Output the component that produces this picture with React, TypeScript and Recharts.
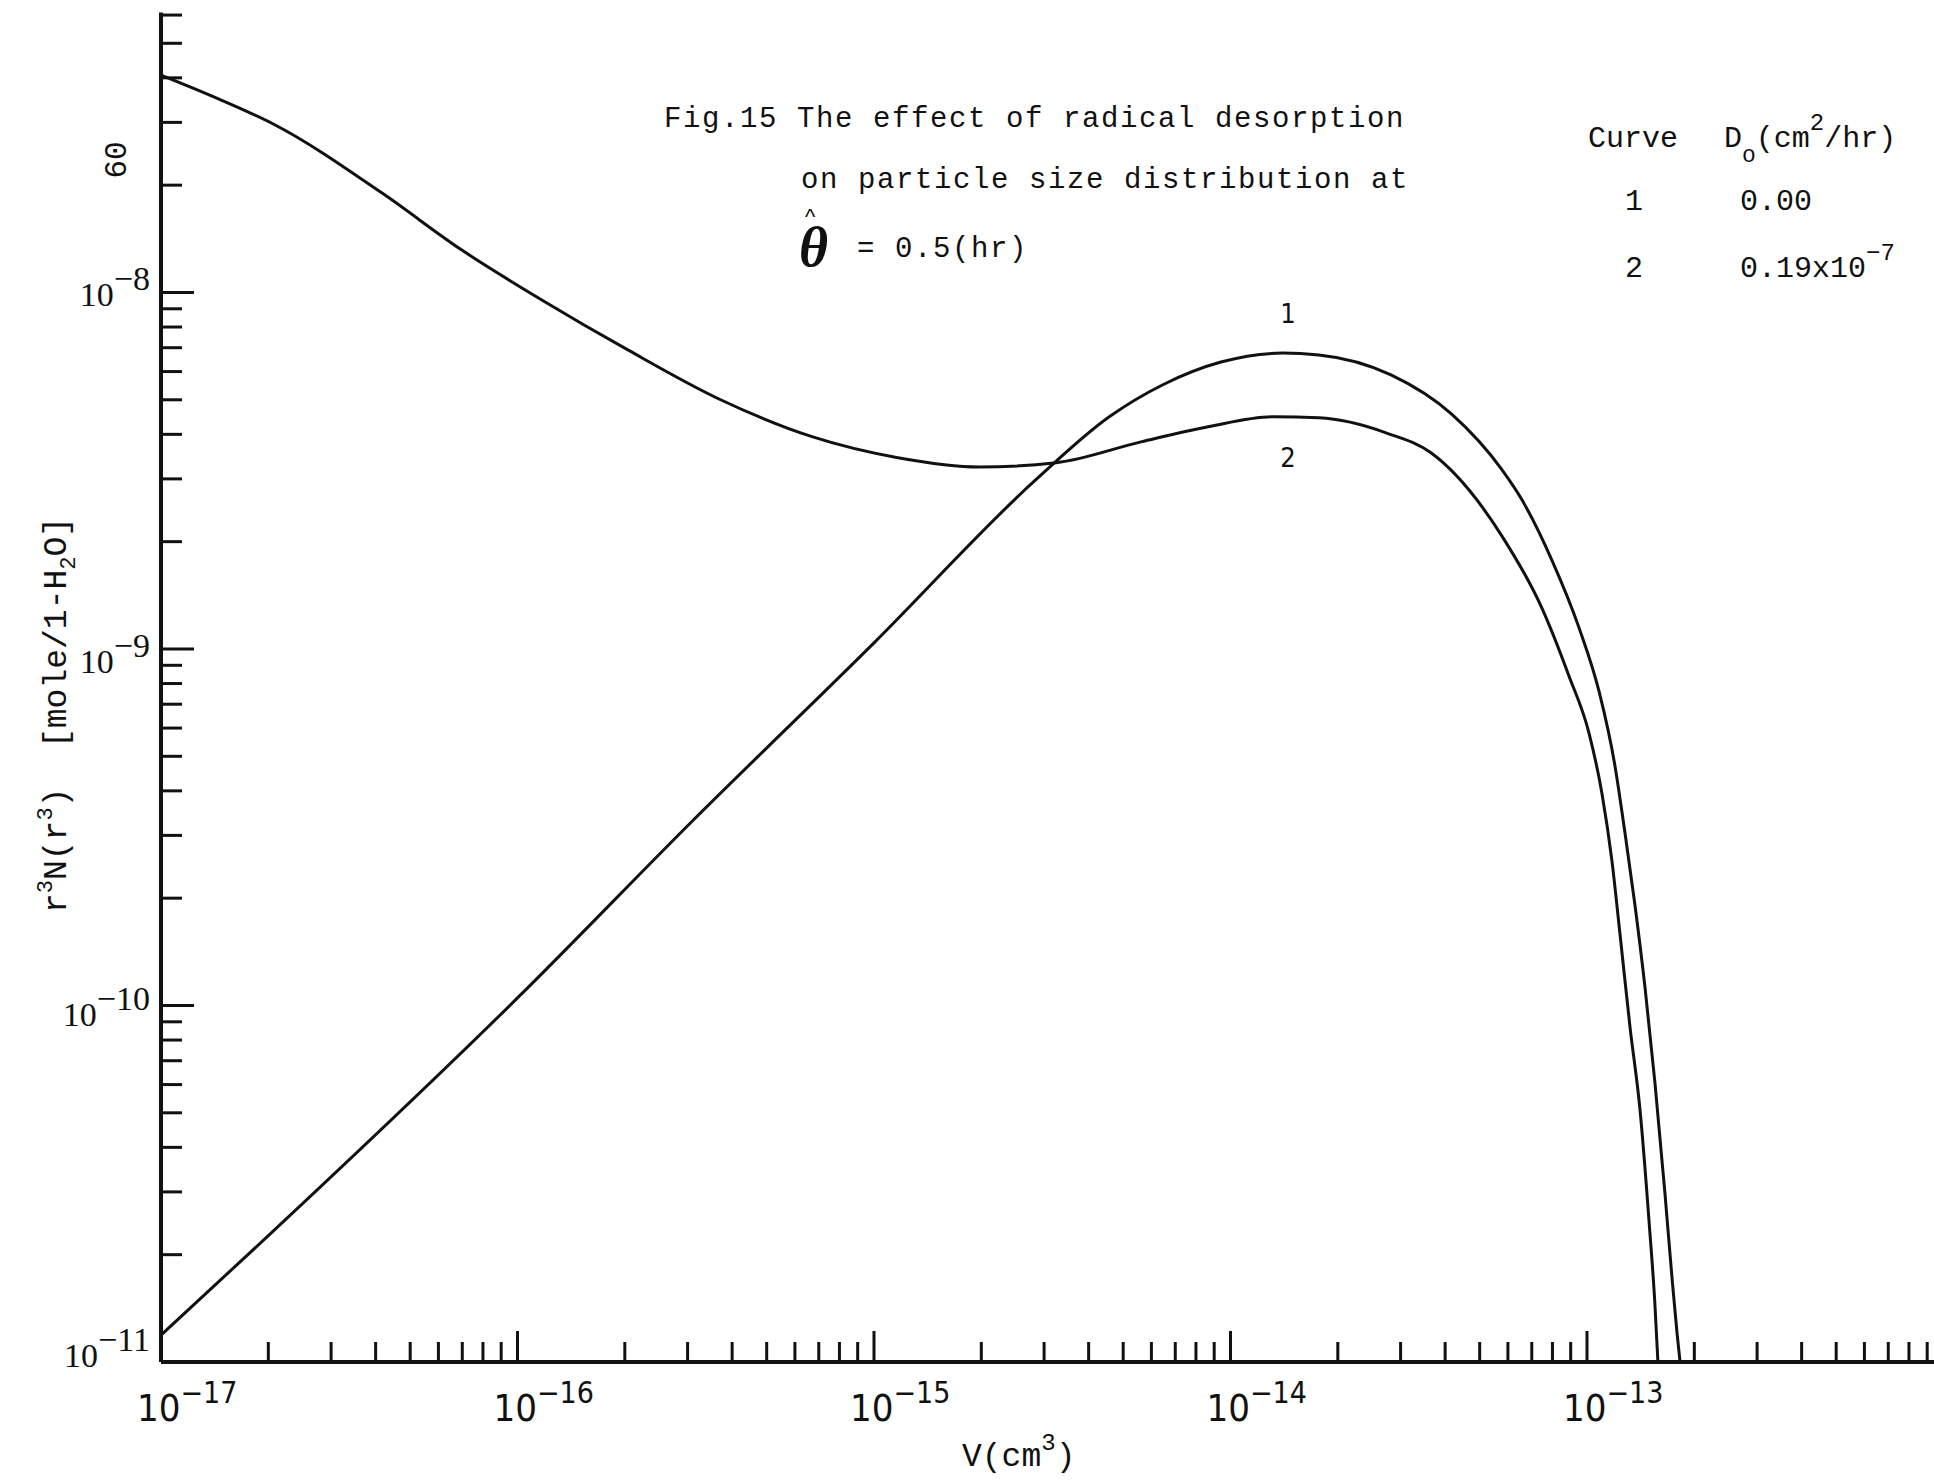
import React from "react";
import { LineChart, Line, XAxis, YAxis } from "recharts";

// Curve 1: D0 = 0.00
const CURVE1_V = [
  1e-17, 1.98e-17, 1e-16, 3.13e-16, 1e-15, 2.84e-15, 4.57e-15, 6.46e-15, 9.4e-15, 1.4e-14,
  1.77e-14, 2.82e-14, 4.18e-14, 5.75e-14, 6.57e-14, 7.98e-14, 9.5e-14, 1.081e-13, 1.198e-13,
  1.278e-13, 1.363e-13, 1.455e-13, 1.551e-13, 1.655e-13, 1.731e-13, 1.788e-13, 1.824e-13,
];
const CURVE1_Y = [
  1.19e-11, 2.24e-11, 1.05e-10, 3.33e-10, 1.04e-9, 2.98e-9, 4.48e-9, 5.51e-9, 6.38e-9, 6.76e-9,
  6.68e-9, 5.87e-9, 4.55e-9, 3.2e-9, 2.62e-9, 1.77e-9, 1.146e-9, 7.6e-10, 4.7e-10,
  3.05e-10, 1.914e-10, 1.12e-10, 6.07e-11, 2.96e-11, 1.73e-11, 1.21e-11, 1.0e-11,
];

// Curve 2: D0 = 0.19x10^-7
const CURVE2_V = [
  1e-17, 1.47e-17, 2.09e-17, 4.17e-17, 6.98e-17, 1.17e-16, 2.04e-16, 3.7e-16, 6.7e-16, 1.167e-15,
  1.97e-15, 3.24e-15, 5.61e-15, 8.65e-15, 1.32e-14, 1.77e-14, 2.73e-14, 3.65e-14,
  5.78e-14, 7.48e-14, 8.9e-14, 1.013e-13, 1.102e-13, 1.175e-13, 1.238e-13, 1.32e-13, 1.409e-13,
  1.493e-13, 1.551e-13, 1.581e-13,
];
const CURVE2_Y = [
  4.07e-8, 3.47e-8, 2.95e-8, 1.9e-8, 1.315e-8, 9.53e-9, 6.9e-9, 5.01e-9, 3.94e-9, 3.44e-9,
  3.24e-9, 3.33e-9, 3.81e-9, 4.2e-9, 4.48e-9, 4.45e-9, 4.04e-9, 3.55e-9,
  2.07e-9, 1.3e-9, 8.4e-10, 5.81e-10, 3.92e-10, 2.54e-10, 1.58e-10, 8.71e-11, 5.07e-11,
  2.48e-11, 1.445e-11, 1.0e-11,
];

const X_DECADES = [-17, -16, -15, -14, -13, -12];
const Y_DECADES = [-11, -10, -9, -8];
const MANTISSAS = [1, 2, 3, 4, 5, 6, 7, 8, 9];

const X_DOMAIN = [1e-17, 1e-12];
const Y_DOMAIN = [1e-11, 6.1e-8];

const X_TICKS = X_DECADES.flatMap((e) => MANTISSAS.map((m) => Number(`${m}e${e}`))).filter(
  (v) => v <= X_DOMAIN[1] * 1.0001
);
const Y_TICKS = Y_DECADES.flatMap((e) => MANTISSAS.map((m) => Number(`${m}e${e}`))).filter(
  (v) => v <= Y_DOMAIN[1]
);

const curve1 = CURVE1_V.map((v, i) => ({ v, y: CURVE1_Y[i] }));
const curve2 = CURVE2_V.map((v, i) => ({ v, y: CURVE2_Y[i] }));

const INK = "#111";
const AXIS_LEFT = 161;
const MONO = "'Liberation Mono', 'DejaVu Sans Mono', monospace";
const NARROW = "'Liberation Sans Narrow', 'DejaVu Sans Condensed', sans-serif";
const SERIF = "'Liberation Serif', 'DejaVu Serif', serif";

// label drift of the scanned y labels
const Y_LABEL_DY: Record<number, number> = { [-8]: 14, [-9]: 24, [-10]: 21, [-11]: 5 };

const decadeOf = (v: number) => {
  const e = Math.floor(Math.log10(v) + 1e-9);
  const m = Math.round(v / Math.pow(10, e));
  return { e, major: m === 1 };
};

const XTick = (props: any) => {
  const { x, y, payload } = props;
  const { e, major } = decadeOf(payload.value);
  return (
    <g>
      {x > AXIS_LEFT + 3 && (
        <line x1={x} y1={y} x2={x} y2={y - (major ? 31 : 20)} stroke={INK} strokeWidth={3} />
      )}
      {major && x < 1900 && (
        <text x={x - 24} y={y + 59} fontFamily={NARROW} fontSize={38} fill={INK}>
          10
          <tspan dy={-18} fontSize={30}>
            {"\u2212" + Math.abs(e)}
          </tspan>
        </text>
      )}
    </g>
  );
};

const YTick = (props: any) => {
  const { x, y, payload } = props;
  const { e, major } = decadeOf(payload.value);
  return (
    <g>
      {payload.value > Y_DOMAIN[0] * 1.001 && (
        <line x1={x} y1={y} x2={x + (major ? 33 : 21)} y2={y} stroke={INK} strokeWidth={3} />
      )}
      {major && (
        <text x={x - 11} y={y + (Y_LABEL_DY[e] ?? 14)} textAnchor="end" fontFamily={SERIF} fontSize={34} fill={INK}>
          10
          <tspan dy={-16}>{"\u2212" + Math.abs(e)}</tspan>
        </text>
      )}
    </g>
  );
};

export default function App() {
  return (
    <div
      style={{
        position: "absolute",
        left: 0,
        top: 0,
        width: 1934,
        height: 1481,
        overflow: "hidden",
        background: "#fff",
      }}
    >
      <LineChart width={1960} height={1481} margin={{ top: 12.5, right: 16.5, bottom: 19, left: 61 }}>
        <XAxis
          dataKey="v"
          type="number"
          scale="log"
          domain={X_DOMAIN}
          allowDataOverflow
          ticks={X_TICKS}
          interval={0}
          height={100}
          tickSize={0}
          tickMargin={0}
          tickLine={false}
          axisLine={{ stroke: INK, strokeWidth: 4 }}
          tick={<XTick />}
        />
        <YAxis
          dataKey="y"
          type="number"
          scale="log"
          domain={Y_DOMAIN}
          allowDataOverflow
          ticks={Y_TICKS}
          interval={0}
          width={100}
          tickSize={0}
          tickMargin={0}
          tickLine={false}
          axisLine={{ stroke: INK, strokeWidth: 4 }}
          tick={<YTick />}
        />
        <Line
          data={curve1}
          dataKey="y"
          type="monotone"
          stroke={INK}
          strokeWidth={3}
          dot={false}
          isAnimationActive={false}
        />
        <Line
          data={curve2}
          dataKey="y"
          type="monotone"
          stroke={INK}
          strokeWidth={3}
          dot={false}
          isAnimationActive={false}
        />
      </LineChart>

      <svg
        width={1934}
        height={1481}
        style={{ position: "absolute", left: 0, top: 0, pointerEvents: "none" }}
      >
        {/* title */}
        <g fontFamily={MONO} fontSize={29} fill={INK} letterSpacing={1.6}>
          <text x={664} y={127}>Fig.15 The effect of radical desorption</text>
          <text x={801} y={188}>on particle size distribution at</text>
          <text x={857} y={257}>= 0.5(hr)</text>
        </g>
        <text x={799} y={266} fontFamily={SERIF} fontWeight="bold" fontStyle="italic" fontSize={56} fill={INK}>
          θ
        </text>
        <text x={805} y={224} fontFamily="'Liberation Sans', sans-serif" fontSize={22} fill={INK}>
          ^
        </text>

        {/* legend table */}
        <g fontFamily={MONO} fontSize={30} fill={INK}>
          <text x={1588} y={147}>Curve</text>
          <text x={1724} y={147}>
            D<tspan dy={15} fontSize={23}>o</tspan>
            <tspan dy={-15}>(cm</tspan>
            <tspan dy={-17} fontSize={24}>2</tspan>
            <tspan dy={17}>/hr)</tspan>
          </text>
          <text x={1634} y={210} textAnchor="middle">1</text>
          <text x={1740} y={210}>0.00</text>
          <text x={1634} y={277} textAnchor="middle">2</text>
          <text x={1740} y={277}>
            0.19x10<tspan dy={-17} fontSize={24}>{"\u22127"}</tspan>
          </text>
        </g>

        {/* curve numbers */}
        <g fontFamily={NARROW} fontSize={27} fill={INK} textAnchor="middle">
          <text x={1288} y={323}>1</text>
          <text x={1288} y={467}>2</text>
        </g>

        {/* stray axis mark */}
        <text
          x={126}
          y={160}
          transform="rotate(-90, 126, 160)"
          textAnchor="middle"
          fontFamily={MONO}
          fontSize={31}
          fill={INK}
        >
          60
        </text>

        {/* y axis title */}
        <text
          x={66}
          y={715}
          transform="rotate(-90, 66, 715)"
          textAnchor="middle"
          fontFamily={MONO}
          fontSize={33}
          fill={INK}
        >
          r<tspan dy={-14} fontSize={22}>3</tspan>
          <tspan dy={14}>N(r</tspan>
          <tspan dy={-14} fontSize={22}>3</tspan>
          <tspan dy={14}>{")\u00A0\u00A0[mole/1-H"}</tspan>
          <tspan dy={9} fontSize={22}>2</tspan>
          <tspan dy={-9}>O]</tspan>
        </text>

        {/* x axis title */}
        <text x={962} y={1466} fontFamily={MONO} fontSize={33} fill={INK}>
          V(cm<tspan dy={-16} fontSize={24}>3</tspan>
          <tspan dy={16}>)</tspan>
        </text>
      </svg>
    </div>
  );
}
